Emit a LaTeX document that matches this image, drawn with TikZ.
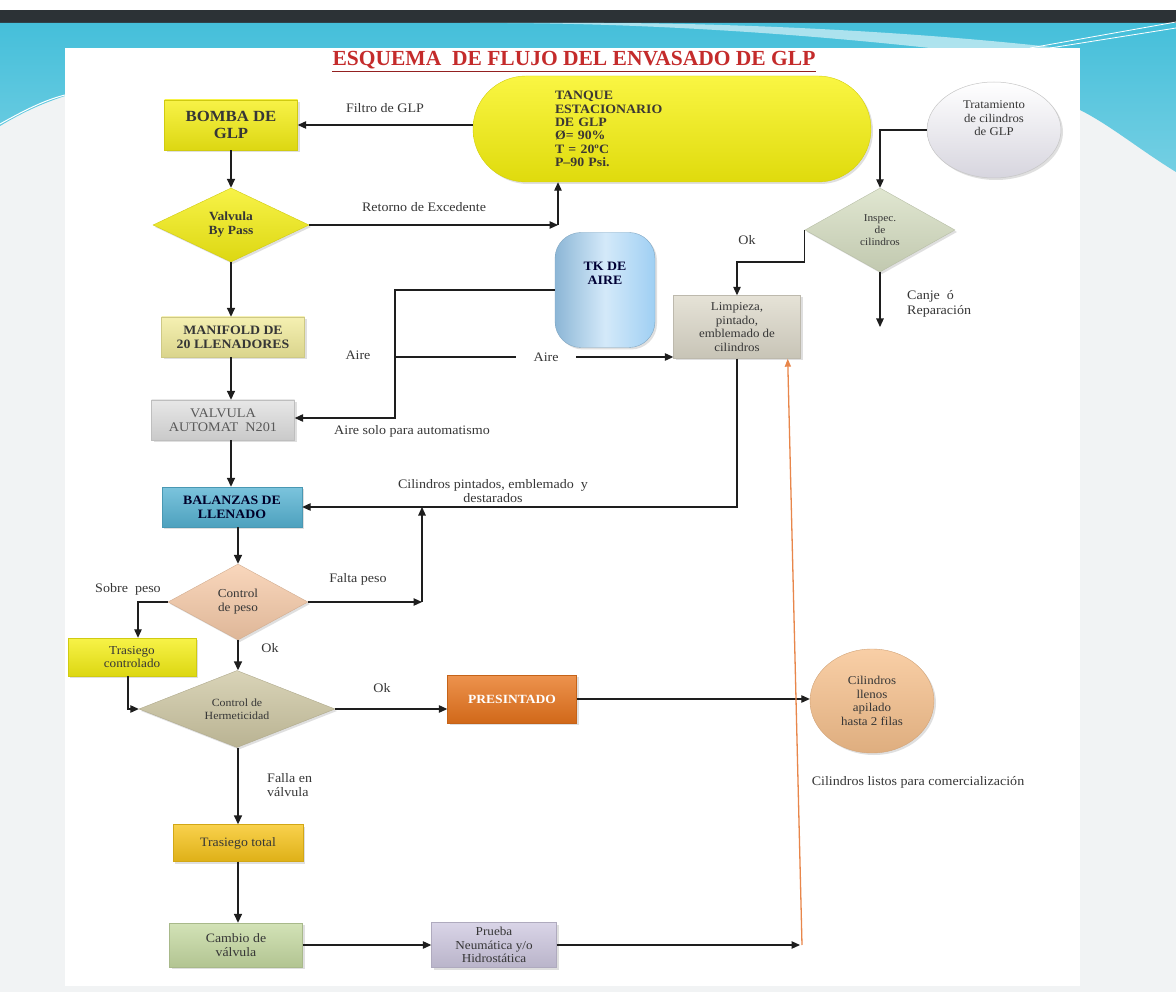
\documentclass[tikz,border=0pt]{standalone}
\usepackage{fontspec}
\setmainfont{Liberation Serif}[FakeStretch=1.08]
\newfontfamily\titlefont{Liberation Serif}
\usetikzlibrary{arrows.meta,shapes.geometric,shapes.misc,shadows,calc}
\definecolor{bgray}{HTML}{F1F3F4}
\definecolor{darkbar}{HTML}{2C3236}
\definecolor{cyanA}{HTML}{45BFDA}
\definecolor{cyanB}{HTML}{74CFE3}
\definecolor{lin}{HTML}{1E1E1E}
\definecolor{txt}{HTML}{363636}
\definecolor{yel}{HTML}{F5EF14}
\definecolor{tankyel}{HTML}{F8F30E}
\definecolor{manif}{HTML}{F2EC9C}
\definecolor{vgray}{HTML}{E0E0E0}
\definecolor{balb}{HTML}{56B3D3}
\definecolor{peach}{HTML}{F7CBA9}
\definecolor{tan}{HTML}{CEC7A3}
\definecolor{orng}{HTML}{E8741C}
\definecolor{cilo}{HTML}{F7C18D}
\definecolor{gold}{HTML}{F7C41A}
\definecolor{lgreen}{HTML}{C6DAA2}
\definecolor{lav}{HTML}{CEC8E0}
\definecolor{trat}{HTML}{E6E4EF}
\definecolor{insp}{HTML}{D7DFC3}
\definecolor{tkb}{HTML}{9FCFF3}
\definecolor{limp}{HTML}{DEDACB}
\definecolor{titred}{HTML}{C42B2B}
\definecolor{oline}{HTML}{E8864A}
\begin{document}
\begin{tikzpicture}[x=1pt,y=-1pt,
  shd/.style={drop shadow={opacity=0.25,shadow xshift=2pt,shadow yshift=-2pt}},
  fillc/.style={top color=#1!78!white, middle color=#1, bottom color=#1!90!black, draw=#1!85!black, line width=0.4pt},
  base/.style={align=center, text=txt, inner sep=1pt, font=\fontsize{13}{14.5}\selectfont},
  box/.style={base, rectangle, shd},
  dia/.style={base, diamond, aspect=2, inner sep=0pt, shd},
  arr/.style={draw=lin, line width=1.6pt, -{Triangle[length=9pt,width=8pt]}},
  arrs/.style={draw=lin, line width=1.1pt, -{Triangle[length=8.5pt,width=7.5pt]}},
  lbl/.style={text=txt, font=\fontsize{13}{14.5}\selectfont, align=center, inner sep=1pt},
]
\useasboundingbox (0,0) rectangle (1176,992);
% ---------- background ----------
\fill[bgray] (0,0) rectangle (1176,992);
\fill[white] (0,0) rectangle (1176,10);
\fill[darkbar] (0,10) rectangle (1176,23);
\shade[top color=cyanA, bottom color=cyanB] (0,23) -- (1176,23) -- (1176,172)
  .. controls (1140,150) and (1110,125) .. (1080,110) -- (1080,48) -- (65,48) -- (65,96)
  .. controls (40,104) and (20,114) .. (0,126) -- cycle;
\fill[white,opacity=0.55] (470,23) .. controls (650,22) and (820,36) .. (930,48) -- (1060,48)
  .. controls (900,30) and (720,23) .. (600,23) -- cycle;
\draw[white,line width=1pt] (0,124) .. controls (25,110) and (45,100) .. (65,95);
\draw[white,line width=0.8pt] (1030,48) -- (1176,22);
\draw[white,line width=0.8pt] (1050,48) -- (1176,28);
\fill[white] (65,48) rectangle (1080,986);
% ---------- title ----------
\node[text=titred, font=\titlefont\bfseries\fontsize{21.5}{24}\selectfont, inner sep=0pt] (title) at (574,60) {ESQUEMA\ \ DE FLUJO DEL ENVASADO DE GLP};
\draw[titred!75!black, line width=1.8pt] ($(title.south west)+(0,2.5)$) -- ($(title.south east)+(0,2.5)$);
% ---------- nodes ----------
\node[base, rounded rectangle, shd, fillc=tankyel, minimum width=398, minimum height=106,
      text width=234, align=left, inner xsep=0pt, text=black!72!yellow!40!black,
      font=\bfseries\fontsize{12.8}{13.4}\selectfont] (tank) at (672,129)
  {TANQUE\\ESTACIONARIO\\DE GLP\\Ø= 90\%\\T = 20ºC\\P--90 Psi.};
\node[box, fillc=yel, minimum width=133, minimum height=50, font=\bfseries\fontsize{15.5}{17}\selectfont] (bomba) at (231,125) {BOMBA DE\\GLP};
\node[dia, fillc=yel, minimum width=156, minimum height=74, font=\bfseries\fontsize{12.5}{14}\selectfont] (bypass) at (231,225) {Valvula\\By Pass};
\node[box, fillc=manif, minimum width=143, minimum height=40, font=\bfseries\fontsize{12.8}{14}\selectfont] (manif) at (233,337) {MANIFOLD DE\\20 LLENADORES};
\node[box, fillc=vgray, minimum width=143, minimum height=40, text=black!65, font=\fontsize{13.2}{14.5}\selectfont] (vauto) at (223,420) {VALVULA\\AUTOMAT\ \ N201};
\node[box, fillc=balb, minimum width=140, minimum height=40, text=black!60!blue!40!black, font=\bfseries\fontsize{12.8}{14}\selectfont] (bal) at (232,507) {BALANZAS DE\\LLENADO};
\node[dia, fillc=peach, minimum width=140, minimum height=76, font=\fontsize{12.2}{14}\selectfont] (cpeso) at (238,602) {Control\\de peso};
\node[box, fillc=yel, minimum width=128, minimum height=38, font=\fontsize{12.2}{13.5}\selectfont] (trc) at (132,657) {Trasiego\\controlado};
\node[dia, fillc=tan, minimum width=196, minimum height=77, font=\fontsize{11}{12.5}\selectfont] (herm) at (237,709) {Control de\\Hermeticidad};
\node[box, fillc=orng, minimum width=129, minimum height=48, text=white, font=\bfseries\fontsize{12.5}{14}\selectfont] (pres) at (512,699) {PRESINTADO};
\node[base, ellipse, shd, fillc=cilo, minimum width=124, minimum height=104, inner sep=0pt, font=\fontsize{12}{13.5}\selectfont] (cil) at (872,701) {Cilindros\\llenos\\apilado\\hasta 2 filas};
\node[box, fillc=gold, minimum width=130, minimum height=37, font=\fontsize{12.8}{14}\selectfont] (trt) at (238,843) {Trasiego total};
\node[box, fillc=lgreen, minimum width=133, minimum height=44, font=\fontsize{12.8}{14}\selectfont] (camb) at (236,945) {Cambio de\\válvula};
\node[box, fillc=lav, minimum width=125, minimum height=45, font=\fontsize{12.2}{13.3}\selectfont] (prue) at (494,945) {Prueba\\Neumática y/o\\Hidrostática};
\node[base, ellipse, shd, top color=white, bottom color=trat!85!gray, draw=gray!45, line width=0.5pt,
      minimum width=134, minimum height=96, inner sep=0pt, font=\fontsize{11.8}{13.5}\selectfont] (trat) at (994,130) {Tratamiento\\de cilindros\\de GLP\\[10pt]};
\node[dia, fillc=insp, minimum width=150, minimum height=84, font=\fontsize{10.5}{12}\selectfont] (insp) at (880,230) {Inspec.\\de\\cilindros};
\node[base, rectangle, rounded corners=26, shd, left color=tkb!88!black, right color=tkb, middle color=tkb!45!white,
      draw=tkb!80!black, line width=0.4pt, minimum width=100, minimum height=115,
      text=black!55!blue!45!black, font=\bfseries\fontsize{12.8}{14}\selectfont] (tkair) at (605,290) {TK DE\\AIRE\\[20pt]};
\node[box, fillc=limp, minimum width=127, minimum height=63, font=\fontsize{12}{13.5}\selectfont] (limp) at (737,327) {Limpieza,\\pintado,\\emblemado de\\cilindros};
% ---------- coordinates ----------
\coordinate (ret) at (558,225);
\coordinate (airc) at (395,418);
\coordinate (aira) at (395,357);
\coordinate (fp) at (422,602);
\coordinate (okc) at (737,262);
\coordinate (cj) at (880,327);
\coordinate (pe) at (800,945);
\coordinate (ob) at (802,945);
% ---------- connectors ----------
\draw[arrs] (bomba.east -| tank.west) -- (bomba.east);
\draw[arr] (bomba.south) -- (bypass.north);
\draw[arrs] (bypass.east) -- (ret);
\draw[arrs] (ret) -- (ret |- tank.south);
\draw[arr] (bypass.south) -- (bypass.south |- manif.north);
\draw[arr] (manif.south -| bypass.south) -- (bypass.south |- vauto.north);
\draw[arr] (vauto.south -| bypass.south) -- (bypass.south |- bal.north);
\draw[arrs] (tkair.west) -| (airc) -- (airc -| vauto.east);
\draw[arrs] (aira) -- (aira -| limp.west) node[pos=0.543, fill=white, minimum width=60, lbl] {Aire};
\draw[arrs] (limp.south) |- (bal.east);
\draw[arr] (bal.south -| cpeso.north) -- (cpeso.north);
\draw[arrs] (cpeso.east) -- (fp);
\draw[arrs] (fp) -- (fp |- bal.east);
\draw[arrs] (cpeso.west) -| ($(trc.north)+(6,0)$);
\draw[arrs] ($(trc.south)+(-4,0)$) |- (herm.west);
\draw[arr] (cpeso.south) -- (cpeso.south |- herm.north);
\draw[arrs] (herm.east) -- (herm.east -| pres.west);
\draw[arrs] (pres.east) -- (pres.east -| cil.west);
\draw[arr] (herm.south -| trt.north) -- (trt.north);
\draw[arr] (trt.south) -- (trt.south |- camb.north);
\draw[arrs] (camb.east) -- (prue.west);
\draw[arrs] (prue.east) -- (pe);
\draw[oline, line width=1.3pt, -{Triangle[length=8pt,width=6pt]}] (ob) -- ($(limp.south east)+(-13,0)$);
\draw[arrs] (trat.west) -| (insp.north);
\draw[arrs] (insp.south) -- (cj);
\draw[arrs] (insp.west) |- (okc) -- (limp.north);
% ---------- labels ----------
\node[lbl] (l1) at (385,108) {Filtro de GLP};
\node[lbl] (l2) at (424,207) {Retorno de Excedente};
\node[lbl] (l3) at (358,355) {Aire};
\node[lbl] (l4) at (412,431) {Aire solo para automatismo};
\node[lbl] (l5) at (747,240) {Ok};
\node[lbl, align=left, anchor=west] (l6) at (906,304) {Canje\ \ ó\\Reparación};
\node[lbl] (l7) at (493,491) {Cilindros pintados, emblemado\ \ y\\destarados};
\node[lbl] (l8) at (358,579) {Falta peso};
\node[lbl] (l9) at (128,589) {Sobre\ \ peso};
\node[lbl] (l10) at (270,648) {Ok};
\node[lbl] (l11) at (382,688) {Ok};
\node[lbl, align=left, anchor=west] (l12) at (266,785) {Falla en\\válvula};
\node[lbl] (l13) at (918,782) {Cilindros listos para comercialización};
\end{tikzpicture}
\end{document}
